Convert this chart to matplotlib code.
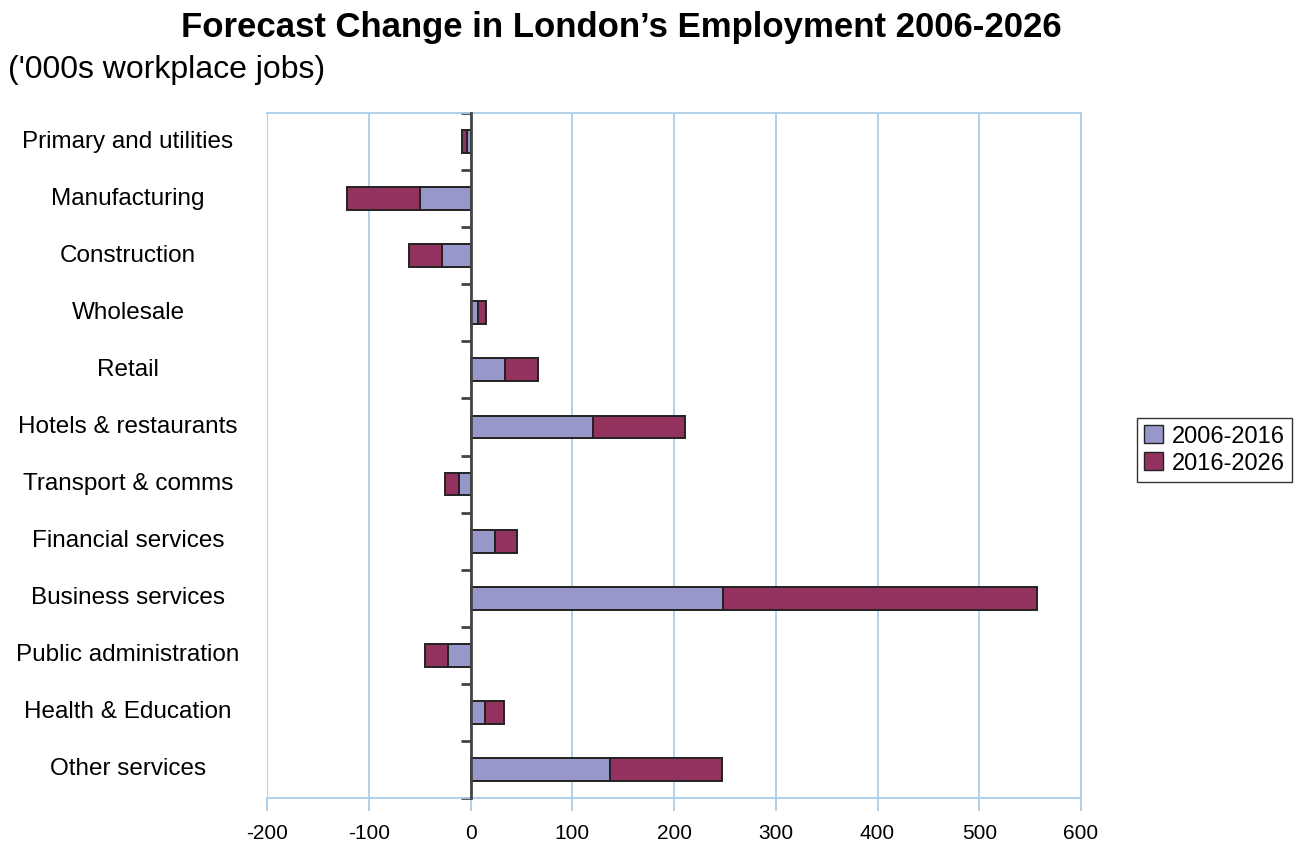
import numpy as np
import matplotlib.pyplot as plt
import matplotlib.transforms as mtransforms
from matplotlib.patches import Patch

categories = ['Primary and utilities', 'Manufacturing', 'Construction', 'Wholesale',
              'Retail', 'Hotels & restaurants', 'Transport & comms', 'Financial services',
              'Business services', 'Public administration', 'Health & Education',
              'Other services']
change_06_16 = [-3, -50, -28, 7, 34, 120, -11, 24, 248, -22, 14, 137]
change_16_26 = [-5, -71, -32, 8, 32, 91, -14, 22, 309, -23, 19, 110]
series_names = ['2006-2016', '2016-2026']
x_ticks = [-200, -100, 0, 100, 200, 300, 400, 500, 600]

purple = '#9797c9'
maroon = '#93325f'
grid_blue = '#a9cdeb'

plt.rcParams['font.family'] = ['Liberation Sans', 'DejaVu Sans']

fig = plt.figure(figsize=(12.95, 8.47), dpi=100)
ax = fig.add_axes([267/1295, 1 - 798/847, (1081-267)/1295, (798-113)/847])

y = np.arange(len(categories))
a = np.array(change_06_16)
b = np.array(change_16_26)
# second series stacks on the end of the first
ax.barh(y, a, height=0.4, color=purple, edgecolor='#222222', linewidth=1.4, zorder=3)
ax.barh(y, b, left=a, height=0.4, color=maroon, edgecolor='#222222', linewidth=1.4, zorder=3)

ax.set_xlim(-200, 600)
ax.set_ylim(len(categories) - 0.5, -0.5)
ax.set_xticks(x_ticks)
ax.set_xticklabels([str(v) for v in x_ticks], fontsize=15)
ax.grid(axis='x', color=grid_blue, linewidth=1.3, zorder=0)

for s in ['top', 'right', 'bottom']:
    ax.spines[s].set_color(grid_blue)
    ax.spines[s].set_linewidth(1.3)
ax.spines['left'].set_position(('data', 0))
ax.spines['left'].set_color('#444444')
ax.spines['left'].set_linewidth(2)
ax.spines['left'].set_zorder(4)
ax.tick_params(axis='x', colors=grid_blue, length=9, width=1.3, labelcolor='black', pad=10)

ax.set_yticks(np.arange(len(categories) + 1) - 0.5)
ax.set_yticklabels([])
ax.tick_params(axis='y', direction='out', length=7, width=2, colors='#444444')

trans = mtransforms.blended_transform_factory(fig.transFigure, ax.transData)
for i, name in enumerate(categories):
    ax.text(128/1295, i, name, transform=trans, fontsize=17.5, ha='center', va='center')

handles = [Patch(facecolor=purple, edgecolor='#222222'), Patch(facecolor=maroon, edgecolor='#222222')]
fig.legend(handles, series_names, loc='center left', bbox_to_anchor=(1125/1295, 1 - 450/847),
           fontsize=17, frameon=True, fancybox=False, edgecolor='black',
           handlelength=0.8, handleheight=0.8, handletextpad=0.4, borderpad=0.3, labelspacing=0.2)

fig.text(621/1295, 1 - 28/847, 'Forecast Change in London\u2019s Employment 2006-2026',
         fontsize=25, fontweight='bold', ha='center', va='center')
fig.text(8/1295, 1 - 70/847, "('000s workplace jobs)", fontsize=23, ha='left', va='center')

fig.savefig('out.png', dpi=100)
